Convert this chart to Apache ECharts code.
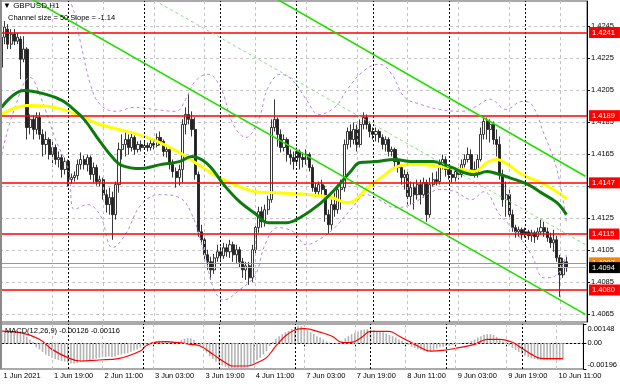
<!DOCTYPE html>
<html><head><meta charset="utf-8">
<script src="https://cdn.jsdelivr.net/npm/echarts@6/dist/echarts.min.js"></script>
<style>html,body{margin:0;padding:0;background:#fff}#c{width:620px;height:388px}</style>
</head><body><div id="c"></div>
<script>
// ---------- data ----------
const xTickLabels = ['1 Jun 2021','1 Jun 19:00','2 Jun 11:00','3 Jun 03:00','3 Jun 19:00','4 Jun 11:00','7 Jun 03:00','7 Jun 19:00','8 Jun 11:00','9 Jun 03:00','9 Jun 19:00','10 Jun 11:00'];
const barsPerLabel = 16;
const slotCount = 185;
const daySeparators = [21,45,69,93,117,141,165];
const priceTicks = [1.4065,1.4085,1.4105,1.4125,1.4145,1.4165,1.4185,1.4205,1.4225,1.4245];
const macdTicks = [0.00148, 0, -0.00196];
const redLevels = [1.4241,1.4189,1.4147,1.4115,1.4080];
const askPrice = 1.4097;
const bidPrice = 1.4094;

// [open, close, low, high]
const ohlc = [
[1.42193,1.42381,1.42168,1.42419],[1.42381,1.42444,1.42337,1.42481],[1.42431,1.42337,1.42306,1.42462],[1.42337,1.42400,1.42306,1.42431],
[1.42400,1.42356,1.42331,1.42431],[1.42356,1.42381,1.42337,1.42406],[1.42369,1.42243,1.42118,1.42387],[1.42243,1.42306,1.42224,1.42387],
[1.42306,1.41816,1.41741,1.42318],[1.41816,1.41867,1.41773,1.41898],[1.41867,1.41804,1.41741,1.41892],[1.41804,1.41879,1.41773,1.41911],
[1.41879,1.41773,1.41741,1.41911],[1.41773,1.41710,1.41635,1.41804],[1.41710,1.41741,1.41647,1.41791],[1.41741,1.41647,1.41616,1.41754],
[1.41647,1.41691,1.41572,1.41729],[1.41691,1.41616,1.41584,1.41710],[1.41616,1.41628,1.41566,1.41666],[1.41628,1.41553,1.41503,1.41647],
[1.41553,1.41603,1.41522,1.41628],[1.41603,1.41490,1.41447,1.41616],[1.41490,1.41503,1.41465,1.41528],[1.41503,1.41515,1.41478,1.41541],
[1.41515,1.41584,1.41490,1.41616],[1.41584,1.41616,1.41553,1.41660],[1.41616,1.41584,1.41553,1.41641],[1.41584,1.41628,1.41541,1.41647],
[1.41628,1.41522,1.41490,1.41641],[1.41522,1.41566,1.41472,1.41597],[1.41566,1.41478,1.41453,1.41584],[1.41478,1.41490,1.41447,1.41515],
[1.41490,1.41396,1.41365,1.41503],[1.41396,1.41334,1.41284,1.41428],[1.41334,1.41378,1.41271,1.41440],[1.41378,1.41271,1.41114,1.41415],
[1.41271,1.41459,1.41240,1.41478],[1.41459,1.41679,1.41409,1.41722],[1.41679,1.41710,1.41616,1.41773],[1.41710,1.41741,1.41635,1.41785],
[1.41741,1.41691,1.41647,1.41773],[1.41691,1.41754,1.41666,1.41785],[1.41754,1.41679,1.41647,1.41766],[1.41679,1.41710,1.41660,1.41729],
[1.41710,1.41691,1.41666,1.41735],[1.41691,1.41704,1.41679,1.41729],[1.41704,1.41691,1.41666,1.41722],[1.41691,1.41716,1.41672,1.41741],
[1.41716,1.41704,1.41679,1.41735],[1.41704,1.41754,1.41691,1.41779],[1.41754,1.41729,1.41704,1.41791],[1.41729,1.41666,1.41635,1.41741],
[1.41666,1.41679,1.41628,1.41710],[1.41679,1.41584,1.41553,1.41691],[1.41584,1.41541,1.41503,1.41616],[1.41541,1.41503,1.41440,1.41566],
[1.41503,1.41553,1.41453,1.41584],[1.41553,1.41835,1.41472,1.41867],[1.41835,1.41898,1.41773,1.41942],[1.41898,1.41867,1.41835,1.42023],
[1.41867,1.41804,1.41760,1.41917],[1.41804,1.41522,1.41490,1.41879],[1.41522,1.41164,1.41133,1.41541],[1.41164,1.41114,1.41083,1.41208],
[1.41114,1.41020,1.40989,1.41133],[1.41020,1.40976,1.40926,1.41052],[1.40976,1.40926,1.40863,1.41008],[1.40926,1.41001,1.40901,1.41026],
[1.41001,1.41039,1.40976,1.41083],[1.41039,1.41014,1.40989,1.41070],[1.41014,1.41064,1.40995,1.41095],[1.41064,1.41039,1.41008,1.41089],
[1.41039,1.41083,1.41001,1.41114],[1.41083,1.41020,1.40976,1.41102],[1.41020,1.41052,1.40970,1.41083],[1.41052,1.40976,1.40939,1.41070],
[1.40976,1.40926,1.40876,1.41001],[1.40926,1.40951,1.40863,1.40976],[1.40951,1.40876,1.40832,1.40976],[1.40876,1.41052,1.40851,1.41083],
[1.41052,1.41190,1.41020,1.41208],[1.41190,1.41290,1.41158,1.41321],[1.41290,1.41227,1.41190,1.41321],[1.41227,1.41302,1.41196,1.41334],
[1.41302,1.41365,1.41271,1.41390],[1.41365,1.41816,1.41346,1.41867],[1.41816,1.41867,1.41791,1.41992],[1.41867,1.41773,1.41697,1.41879],
[1.41773,1.41691,1.41660,1.41804],[1.41691,1.41741,1.41666,1.41773],[1.41741,1.41647,1.41603,1.41754],[1.41647,1.41628,1.41584,1.41679],
[1.41628,1.41603,1.41553,1.41666],[1.41603,1.41666,1.41578,1.41691],[1.41666,1.41628,1.41553,1.41679],[1.41628,1.41616,1.41566,1.41660],
[1.41616,1.41647,1.41584,1.41679],[1.41647,1.41566,1.41541,1.41660],[1.41566,1.41440,1.41415,1.41584],[1.41440,1.41415,1.41384,1.41472],
[1.41415,1.41459,1.41390,1.41478],[1.41459,1.41428,1.41396,1.41490],[1.41428,1.41271,1.41227,1.41453],[1.41271,1.41208,1.41152,1.41302],
[1.41208,1.41334,1.41177,1.41365],[1.41334,1.41302,1.41258,1.41409],[1.41302,1.41428,1.41277,1.41459],[1.41428,1.41440,1.41302,1.41490],
[1.41440,1.41710,1.41415,1.41741],[1.41710,1.41791,1.41679,1.41816],[1.41791,1.41741,1.41691,1.41835],[1.41741,1.41804,1.41710,1.41848],
[1.41804,1.41710,1.41666,1.41835],[1.41710,1.41835,1.41691,1.41867],[1.41835,1.41879,1.41804,1.41911],[1.41879,1.41835,1.41804,1.41898],
[1.41835,1.41791,1.41754,1.41854],[1.41791,1.41773,1.41741,1.41816],[1.41773,1.41791,1.41729,1.41816],[1.41791,1.41754,1.41722,1.41804],
[1.41754,1.41710,1.41679,1.41773],[1.41710,1.41741,1.41666,1.41760],[1.41741,1.41666,1.41635,1.41754],[1.41666,1.41679,1.41635,1.41697],
[1.41679,1.41603,1.41566,1.41691],[1.41603,1.41566,1.41534,1.41628],[1.41566,1.41503,1.41459,1.41584],[1.41503,1.41522,1.41428,1.41553],
[1.41522,1.41384,1.41334,1.41541],[1.41384,1.41440,1.41334,1.41478],[1.41440,1.41396,1.41302,1.41472],[1.41396,1.41459,1.41365,1.41490],
[1.41459,1.41396,1.41334,1.41490],[1.41396,1.41472,1.41378,1.41503],[1.41472,1.41271,1.41227,1.41490],[1.41271,1.41459,1.41252,1.41503],
[1.41459,1.41490,1.41447,1.41534],[1.41490,1.41478,1.41453,1.41541],[1.41478,1.41584,1.41459,1.41616],[1.41584,1.41616,1.41553,1.41647],
[1.41616,1.41553,1.41509,1.41635],[1.41553,1.41522,1.41490,1.41584],[1.41522,1.41503,1.41472,1.41553],[1.41503,1.41541,1.41478,1.41566],
[1.41541,1.41522,1.41490,1.41566],[1.41522,1.41584,1.41503,1.41616],[1.41584,1.41616,1.41566,1.41647],[1.41616,1.41647,1.41597,1.41691],
[1.41647,1.41553,1.41522,1.41679],[1.41553,1.41522,1.41503,1.41603],[1.41522,1.41616,1.41503,1.41647],[1.41616,1.41773,1.41603,1.41816],
[1.41773,1.41854,1.41741,1.41885],[1.41854,1.41804,1.41741,1.41879],[1.41804,1.41835,1.41722,1.41867],[1.41835,1.41741,1.41710,1.41854],
[1.41741,1.41710,1.41635,1.41804],[1.41710,1.41522,1.41490,1.41760],[1.41522,1.41365,1.41321,1.41553],[1.41365,1.41396,1.41258,1.41478],
[1.41396,1.41271,1.41240,1.41428],[1.41271,1.41190,1.41164,1.41302],[1.41190,1.41164,1.41127,1.41208],[1.41164,1.41177,1.41133,1.41196],
[1.41177,1.41146,1.41114,1.41190],[1.41146,1.41164,1.41127,1.41190],[1.41164,1.41139,1.41114,1.41177],[1.41139,1.41158,1.41102,1.41177],
[1.41158,1.41133,1.41095,1.41171],[1.41133,1.41164,1.41114,1.41190],[1.41164,1.41190,1.41146,1.41240],[1.41190,1.41164,1.41133,1.41227],
[1.41164,1.41127,1.41102,1.41190],[1.41127,1.41095,1.41064,1.41158],[1.41095,1.41114,1.41039,1.41177],[1.41114,1.41001,1.40976,1.41139],
[1.41001,1.40895,1.40757,1.41020],[1.40895,1.40976,1.40876,1.41001],[1.40976,1.40939,1.40914,1.41008]
];

// moving averages, read as [bar index, price]
const maGreen = [[0,1.41942],[7,1.42048],[14,1.42023],[19,1.41986],[22,1.41942],[26,1.41867],[31,1.41729],[35,1.41628],[38,1.41578],[44,1.41559],[50,1.41584],[56,1.41603],[60,1.41635],[63,1.41616],[66,1.41566],[70,1.41459],[75,1.41352],[80,1.41277],[84,1.41221],[90,1.41221],[94,1.41252],[100,1.41334],[105,1.41428],[110,1.41541],[113,1.41597],[118,1.41603],[124,1.41616],[129,1.41603],[136,1.41603],[141,1.41572],[149,1.41522],[153,1.41541],[157,1.41522],[160,1.41503],[166,1.41459],[170,1.41409],[175,1.41346],[178,1.41271]];
const maYellow = [[0,1.41898],[8,1.41954],[15,1.41948],[21,1.41917],[25,1.41885],[31,1.41835],[37,1.41804],[43,1.41773],[49,1.41729],[56,1.41660],[62,1.41584],[68,1.41509],[75,1.41447],[80,1.41415],[85,1.41409],[91,1.41403],[97,1.41396],[104,1.41378],[109,1.41345],[112,1.41371],[115,1.41434],[120,1.41509],[124,1.41566],[128,1.41584],[132,1.41584],[138,1.41572],[145,1.41553],[149,1.41541],[153,1.41597],[156,1.41616],[160,1.41578],[164,1.41522],[170,1.41472],[175,1.41415],[178,1.41371]];
const bandUpper = [[18,1.42713],[22,1.42588],[25,1.42337],[28,1.42086],[31,1.41961],[36,1.41917],[42,1.41942],[48,1.41929],[55,1.41917],[58,1.41992],[61,1.42105],[65,1.42149],[69,1.42067],[73,1.41835],[77,1.41754],[81,1.41867],[84,1.42067],[88,1.42149],[92,1.42105],[96,1.41992],[100,1.41898],[105,1.41942],[109,1.42055],[114,1.42168],[119,1.42212],[123,1.42149],[127,1.42005],[132,1.41961],[138,1.41929],[145,1.41917],[149,1.41942],[154,1.41992],[159,1.41929],[164,1.41979],[167,1.41961],[171,1.41773],[175,1.41553],[178,1.41227]];
const bandLower = [[0,1.41647],[4,1.41929],[9,1.42130],[12,1.42023],[17,1.41741],[21,1.41553],[23,1.41302],[27,1.41334],[31,1.41271],[35,1.41064],[39,1.41146],[44,1.41334],[50,1.41396],[56,1.41378],[60,1.41271],[64,1.41020],[67,1.40801],[70,1.40738],[75,1.40801],[80,1.40895],[83,1.41083],[87,1.41190],[92,1.41164],[96,1.41083],[100,1.41114],[105,1.41190],[110,1.41302],[115,1.41396],[119,1.41365],[124,1.41315],[129,1.41334],[134,1.41396],[138,1.41428],[143,1.41415],[148,1.41365],[152,1.41415],[157,1.41271],[162,1.41164],[167,1.41020],[171,1.40876],[175,1.40895],[178,1.41020]];

// regression channel (Channel size = 50, Slope = -1.14): [bar index, price] end points
const channelLower = [[0,1.42726],[184,1.40648]];
const channelUpper = [[80,1.42696],[184,1.41511]];
const channelMid = [[40,1.42703],[184,1.41084]];

// MACD(12,26,9) main (histogram) per bar
const macdMain = [
0.00085,0.00088,0.00090,0.00090,0.00088,0.00086,0.00080,0.00070,0.00050,0.00030,0.00010,
-0.00030,-0.00046,-0.00065,-0.00085,-0.00097,-0.00110,-0.00120,-0.00128,-0.00135,
-0.00140,-0.00148,-0.00153,-0.00153,-0.00150,-0.00145,-0.00140,-0.00135,-0.00128,-0.00120,-0.00115,-0.00110,
-0.00105,-0.00105,-0.00100,-0.00105,-0.00100,-0.00090,-0.00085,-0.00080,-0.00075,
-0.00065,-0.00055,-0.00045,-0.00032,-0.00020,-0.00008,0.00003,
0.00010,0.00015,0.00020,0.00020,0.00018,0.00015,0.00012,0.00010,0.00012,
0.00025,0.00035,0.00040,0.00038,0.00025,
0.00005,-0.00015,-0.00040,-0.00070,-0.00100,-0.00120,
-0.00140,-0.00155,-0.00170,-0.00180,-0.00190,-0.00195,-0.00195,-0.00190,-0.00190,-0.00185,-0.00185,
-0.00170,-0.00150,-0.00130,-0.00110,-0.00085,-0.00060,-0.00020,0.00010,
0.00035,0.00055,0.00070,0.00085,0.00095,
0.00110,0.00125,0.00135,0.00130,0.00115,0.00100,0.00085,0.00070,0.00055,0.00045,0.00030,0.00015,0.00005,0.00000,-0.00003,0.00003,
0.00020,0.00040,0.00055,0.00070,0.00080,0.00090,0.00100,0.00105,0.00108,0.00105,0.00100,0.00095,0.00090,0.00085,0.00075,0.00065,0.00055,0.00045,0.00030,0.00020,
0.00005,-0.00010,-0.00025,-0.00035,-0.00045,-0.00050,-0.00060,-0.00065,-0.00060,-0.00050,-0.00040,-0.00030,-0.00025,-0.00020,-0.00020,-0.00015,-0.00010,-0.00005,0.00000,0.00005,
0.00010,0.00020,0.00030,0.00045,0.00055,0.00065,0.00070,0.00070,0.00065,0.00050,0.00030,0.00015,0.00000,
-0.00015,-0.00035,-0.00050,-0.00065,-0.00080,-0.00095,-0.00105,-0.00115,-0.00120,-0.00125,-0.00125,-0.00125,-0.00125,-0.00125,-0.00125,-0.00130,-0.00130,-0.00126
];
// MACD signal line, read as [bar index, value]
const macdSignal = [[0,0.00094],[6,0.00082],[12,0.00031],[16,-0.00046],[21,-0.00109],[25,-0.00135],[31,-0.00127],[37,-0.00117],[44,-0.00059],[46,-0.00015],[49,0.00010],[52,0.00013],[56,0.00005],[60,-0.00008],[63,-0.00020],[67,-0.00084],[71,-0.00148],[73,-0.00173],[78,-0.00173],[81,-0.00148],[84,-0.00109],[87,-0.00020],[90,0.00056],[93,0.00102],[96,0.00112],[101,0.00086],[105,0.00053],[108,0.00005],[111,0.00008],[114,0.00043],[117,0.00092],[123,0.00092],[126,0.00056],[129,0.00018],[132,-0.00020],[136,-0.00059],[140,-0.00053],[145,-0.00033],[150,-0.00008],[154,0.00031],[158,0.00031],[162,0.00008],[165,-0.00038],[168,-0.00084],[171,-0.00115],[174,-0.00117],[178,-0.00116]];

// ---------- chart ----------
const FONT = 'Tahoma, "Liberation Sans", Arial, sans-serif';
const categories = Array.from({length: slotCount}, (_, i) => String(i));
const labelIdx = xTickLabels.map((_, k) => k * barsPerLabel);

const vGrid = labelIdx.map(i => ({xAxis: i, lineStyle: {color: '#c4c4c4', type: [3, 3], width: 1}}));
const vDays = daySeparators.map(i => ({xAxis: i, lineStyle: {color: '#000', type: [2, 2], width: 1}}));

function tag(text, bg) {
  return {show: true, position: 'end', distance: 2, formatter: () => text, backgroundColor: bg, color: '#fff',
          fontSize: 7.5, fontFamily: FONT, padding: [2, 5, 1, 3]};
}
const levelLines = redLevels.map(v => ({yAxis: v, lineStyle: {color: '#ff0000', width: 1.6, type: 'solid'}, label: tag(v.toFixed(4), '#ff0000')}));
const priceLines = [
  {yAxis: askPrice, lineStyle: {color: '#ff8000', width: 1, type: 'solid'}, label: tag(askPrice.toFixed(4), '#ff8000')},
  {yAxis: bidPrice, lineStyle: {color: '#c0c0c0', width: 1, type: 'solid'}, label: tag(bidPrice.toFixed(4), '#000000')}
];

function overlay(name, data, color, width, type, smooth, z) {
  return {name, type: 'line', xAxisIndex: 0, yAxisIndex: 0, data, smooth, showSymbol: false, symbol: 'none', z,
          lineStyle: {color, width, type}, silent: true, clip: true};
}

const option = {
  animation: false,
  backgroundColor: '#fff',
  textStyle: {fontFamily: FONT},
  grid: [
    {left: 0, top: 1, width: 587, height: 321, show: true, borderColor: '#555', borderWidth: 1, backgroundColor: '#fff'},
    {left: 0, top: 324, width: 587, height: 45, show: true, borderColor: '#555', borderWidth: 1, backgroundColor: '#fff'}
  ],
  xAxis: [
    {gridIndex: 0, type: 'category', data: categories, boundaryGap: true,
     axisLine: {show: false}, axisTick: {show: false}, axisLabel: {show: false}, splitLine: {show: false}},
    {gridIndex: 1, type: 'category', data: categories, boundaryGap: true,
     axisLine: {show: true, lineStyle: {color: '#000'}},
     axisTick: {show: true, interval: barsPerLabel - 1, alignWithLabel: true, length: 3, lineStyle: {color: '#000'}},
     axisLabel: {show: true, interval: barsPerLabel - 1, align: 'left', margin: 3, fontSize: 7.5, color: '#000', fontFamily: FONT,
                 padding: [0, 0, 0, 2],
                 formatter: (v, idx) => (idx % barsPerLabel === 0 ? (xTickLabels[idx / barsPerLabel] || '') : '')},
     splitLine: {show: false}}
  ],
  yAxis: [
    {gridIndex: 0, type: 'value', position: 'right', min: 1.4060, max: 1.42607, scale: true,
     axisLine: {show: true, lineStyle: {color: '#000'}},
     axisTick: {show: true, length: 3, customValues: priceTicks, lineStyle: {color: '#000'}},
     axisLabel: {show: true, customValues: priceTicks, margin: 4, fontSize: 7.5, color: '#000', fontFamily: FONT, formatter: v => v.toFixed(4)},
     splitLine: {show: true, lineStyle: {color: '#c4c4c4', type: [3, 3], width: 1}}},
    {gridIndex: 1, type: 'value', position: 'right', min: -0.00196, max: 0.00148,
     axisLine: {show: true, lineStyle: {color: '#000'}},
     axisTick: {show: true, length: 3, customValues: macdTicks, lineStyle: {color: '#000'}},
     axisLabel: {show: true, customValues: macdTicks, margin: 4, fontSize: 7.5, color: '#000', fontFamily: FONT,
                 formatter: v => (v > 0.0005 ? '{t|' + v.toFixed(5) + '}' : (v < -0.0005 ? '{b|' + v.toFixed(5) + '}' : '0.00')),
                 rich: {t: {padding: [9, 0, 0, 0], fontSize: 7.5, color: '#000', fontFamily: FONT},
                        b: {padding: [0, 0, 9, 0], fontSize: 7.5, color: '#000', fontFamily: FONT}}},
     splitLine: {show: false}}
  ],
  graphic: [
    {type: 'rect', left: 0, top: 0, z: 90, shape: {width: 2, height: 369}, style: {fill: '#8a8a8a'}},
    {type: 'text', left: 3, top: 2, z: 100, style: {text: '▼ GBPUSD,H1', fontSize: 8, fontFamily: FONT, fill: '#000'}},
    {type: 'text', left: 8, top: 14, z: 100, style: {text: 'Channel size = 50 Slope = -1.14', fontSize: 7.5, fontFamily: FONT, fill: '#000'}},
    {type: 'text', left: 5, top: 327, z: 100, style: {text: 'MACD(12,26,9) -0.00126 -0.00116', fontSize: 7.5, fontFamily: FONT, fill: '#000'}}
  ],
  series: [
    {name: 'gridMain', type: 'line', xAxisIndex: 0, yAxisIndex: 0, data: [], z: 1, silent: true,
     markLine: {silent: true, symbol: 'none', precision: 6, label: {show: false}, animation: false, data: vGrid.concat(vDays)}},
    {name: 'gridMacd', type: 'line', xAxisIndex: 1, yAxisIndex: 1, data: [], z: 1, silent: true,
     markLine: {silent: true, symbol: 'none', precision: 6, label: {show: false}, animation: false,
                data: vGrid.concat(vDays).concat([{yAxis: 0, lineStyle: {color: '#b0b0b0', type: [2, 2], width: 1}}])}},
    {name: 'GBPUSD', type: 'candlestick', xAxisIndex: 0, yAxisIndex: 0, data: ohlc, barWidth: 2.6, z: 2,
     itemStyle: {color: '#ffffff', color0: '#222', borderColor: '#222', borderColor0: '#222', borderWidth: 0.9}},
    overlay('bandUpper', bandUpper, '#b585e8', 1, [3, 3], 0.4, 3),
    overlay('bandLower', bandLower, '#b585e8', 1, [3, 3], 0.4, 3),
    overlay('maYellow', maYellow, '#ffff00', 3, 'solid', 0.4, 4),
    overlay('maGreen', maGreen, '#0c7a0c', 3, 'solid', 0.4, 5),
    overlay('channelLower', channelLower, '#22dd00', 1.6, 'solid', false, 6),
    overlay('channelUpper', channelUpper, '#22dd00', 1.6, 'solid', false, 6),
    overlay('channelMid', channelMid, '#7ee07e', 1, [3, 3], false, 6),
    {name: 'levels', type: 'line', xAxisIndex: 0, yAxisIndex: 0, data: [], z: 7, silent: true,
     markLine: {silent: true, symbol: 'none', precision: 6, animation: false, data: levelLines.concat(priceLines)}},
    {name: 'MACD', type: 'bar', xAxisIndex: 1, yAxisIndex: 1, data: macdMain, barWidth: 1.6, z: 2,
     itemStyle: {color: '#b4b4b4'}, silent: true},
    {name: 'Signal', type: 'line', xAxisIndex: 1, yAxisIndex: 1, data: macdSignal, smooth: 0.4, showSymbol: false, symbol: 'none', z: 3,
     lineStyle: {color: '#ff0000', width: 1.2}, silent: true}
  ]
};

const chart = echarts.init(document.getElementById('c'), null, {renderer: 'canvas'});
chart.setOption(option);
</script>
</body></html>
